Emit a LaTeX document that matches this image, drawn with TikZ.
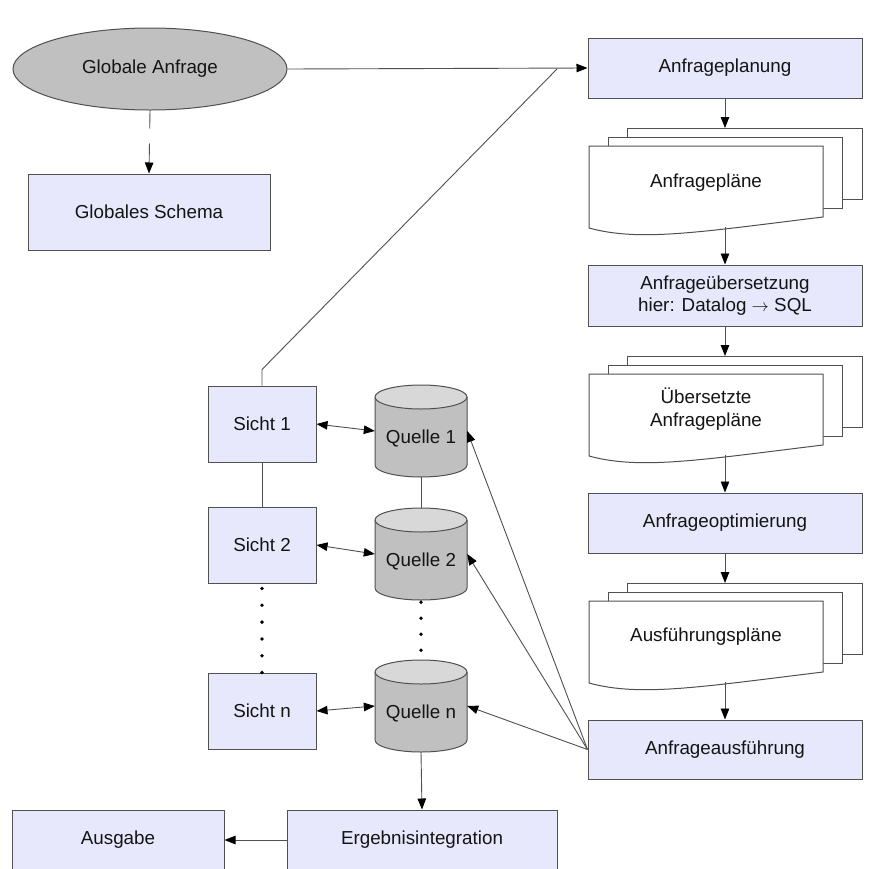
\documentclass[tikz,border=0pt]{standalone}
\usepackage{fontspec}
\setmainfont{Liberation Sans}
\usetikzlibrary{arrows.meta,shapes.geometric}

\definecolor{boxfill}{RGB}{232,232,252}
\definecolor{edge}{RGB}{80,80,80}
\definecolor{dbbody}{RGB}{192,192,192}
\definecolor{dbtop}{RGB}{216,216,216}
\definecolor{ink}{RGB}{20,20,20}

\tikzset{
  headtip/.tip={Triangle[length=11pt,width=8.5pt,fill=black,color=black]},
  every node/.style={font=\fontsize{18.8}{22.5}\selectfont, text=ink},
  procbox/.style={draw=edge, fill=boxfill, line width=1pt, inner sep=0pt, align=center},
  startnode/.style={ellipse, draw=edge, fill=dbbody, line width=1pt,
    minimum width=274pt, minimum height=82pt, inner sep=0pt},
  sheet/.style={draw=edge, fill=white, line width=1pt},
  dbshape/.style={draw=edge, line width=1pt},
  dbnode/.style={inner sep=0pt, minimum width=92pt, minimum height=92pt,
    text height=30pt, text depth=4.6pt},
  conn/.style={draw=edge, line width=0.9pt},
  flow/.style={conn, -{headtip}},
  twoway/.style={conn, {headtip}-{headtip}},
  dotrow/.style={draw=black, line width=3.8pt, line cap=round}
}

% database cylinder: #1 = centre x, #2 = top y
\newcommand\dbcylinder[2]{%
  \fill[dbbody] (#1-46,#2+12) -- (#1-46,#2+80)
    arc[start angle=180, end angle=360, x radius=46pt, y radius=12pt]
    -- (#1+46,#2+12) arc[start angle=0, end angle=180, x radius=46pt, y radius=12pt] -- cycle;
  \draw[dbshape] (#1-46,#2+12) -- (#1-46,#2+80)
    arc[start angle=180, end angle=360, x radius=46pt, y radius=12pt]
    -- (#1+46,#2+12);
  \filldraw[dbshape, fill=dbtop] (#1,#2+12) ellipse [x radius=46pt, y radius=12pt];
}

% stack of three document sheets: #1 = top y of the front sheet
\newcommand\paperstack[1]{%
  \path[sheet] (627,#1-18) rectangle (862,#1+53);
  \path[sheet] (608,#1-9) rectangle (842,#1+62);
  \path[sheet] (589,#1) -- (823,#1) -- (823,#1+71)
    .. controls (700,#1+86) and (640,#1+96) .. (589,#1+82) -- cycle;
}

\begin{document}
\begin{tikzpicture}[x=1pt, y=-1pt]
  \useasboundingbox (0,0) rectangle (881,868);
  \fill[white] (0,0) rectangle (881,868);
  \clip (0,0) rectangle (881,868);

  % ---- left: global query and schema ----
  \node[startnode] (glob) at (150,69) {Globale Anfrage};
  \node[procbox, minimum width=242pt, minimum height=76pt] (schema) at (149,212) {Globales Schema};

  % ---- right column: query processing ----
  \node[procbox, minimum width=274pt, minimum height=60pt] (plan) at (725,68) {Anfrageplanung};

  \paperstack{146}
  \node (d1) at (706,183) {Anfragepläne};
  \coordinate (d1top) at (725,128);
  \coordinate (d1bot) at (725,227);

  \node[procbox, minimum width=274pt, minimum height=61pt] (trans) at (725,295.5)
    {Anfrageübersetzung\\hier: Datalog $\rightarrow$ SQL};

  \paperstack{374}
  \node[align=center] (d2) at (706,409) {Übersetzte\\Anfragepläne};
  \coordinate (d2top) at (725,356);
  \coordinate (d2bot) at (725,455);

  \node[procbox, minimum width=274pt, minimum height=60pt] (opt) at (725,523) {Anfrageoptimierung};

  \paperstack{601}
  \node (d3) at (706,637) {Ausführungspläne};
  \coordinate (d3top) at (725,583);
  \coordinate (d3bot) at (725,682);

  \node[procbox, minimum width=274pt, minimum height=59pt] (exec) at (725,749.5) {Anfrageausführung};

  % ---- views ----
  \node[procbox, minimum width=108pt, minimum height=76pt] (s1) at (262,424) {Sicht 1};
  \node[procbox, minimum width=108pt, minimum height=76pt] (s2) at (262,545) {Sicht 2};
  \node[procbox, minimum width=108pt, minimum height=76pt] (sn) at (262,711) {Sicht n};

  % ---- sources ----
  \dbcylinder{421}{385}
  \node[dbnode] (q1) at (421,431) {Quelle 1};
  \dbcylinder{421}{508}
  \node[dbnode] (q2) at (421,554) {Quelle 2};
  \dbcylinder{421}{660}
  \node[dbnode] (qn) at (421,706) {Quelle n};

  % ---- result ----
  \node[procbox, minimum width=270pt, minimum height=60pt] (erg) at (422,840) {Ergebnisintegration};
  \node[procbox, minimum width=212pt, minimum height=60pt] (ausg) at (118,840) {Ausgabe};

  % ---- connectors ----
  \coordinate (join) at (557,69);
  \draw[flow] (glob.east) -- (plan.west);
  \draw[conn] (s1.north) -- ++(0,-16) -- (join);
  \draw[flow, dash pattern=on 18pt off 15pt on 40pt off 0pt] (glob.south) -- (schema.north);

  \draw[flow] (plan.south) -- (d1top);
  \draw[flow] (d1bot) -- (trans.north);
  \draw[flow] (trans.south) -- (d2top);
  \draw[flow] (d2bot) -- (opt.north);
  \draw[flow] (opt.south) -- (d3top);
  \draw[flow] (d3bot) -- (exec.north);

  \draw[twoway] (s1.east) -- (q1.west);
  \draw[twoway] (s2.east) -- (q2.west);
  \draw[twoway] (sn.east) -- (qn.west);

  \draw[conn] (s1.south) -- (s2.north);
  \draw[dotrow, dash pattern=on 0pt off 16.8pt, dash phase=11.8pt] (s2.south) -- (sn.north);
  \draw[conn] (q1.south) -- (q2.north);
  \draw[dotrow, dash pattern=on 0pt off 16pt, dash phase=14pt] (q2.south) -- (qn.north);

  \draw[flow] (exec.west) -- (q1.east);
  \draw[flow] (exec.west) -- (q2.east);
  \draw[flow] (exec.west) -- (qn.east);

  \draw[flow] (qn.south) -- (erg.north);
  \draw[flow] (erg.west) -- (ausg.east);
\end{tikzpicture}
\end{document}
